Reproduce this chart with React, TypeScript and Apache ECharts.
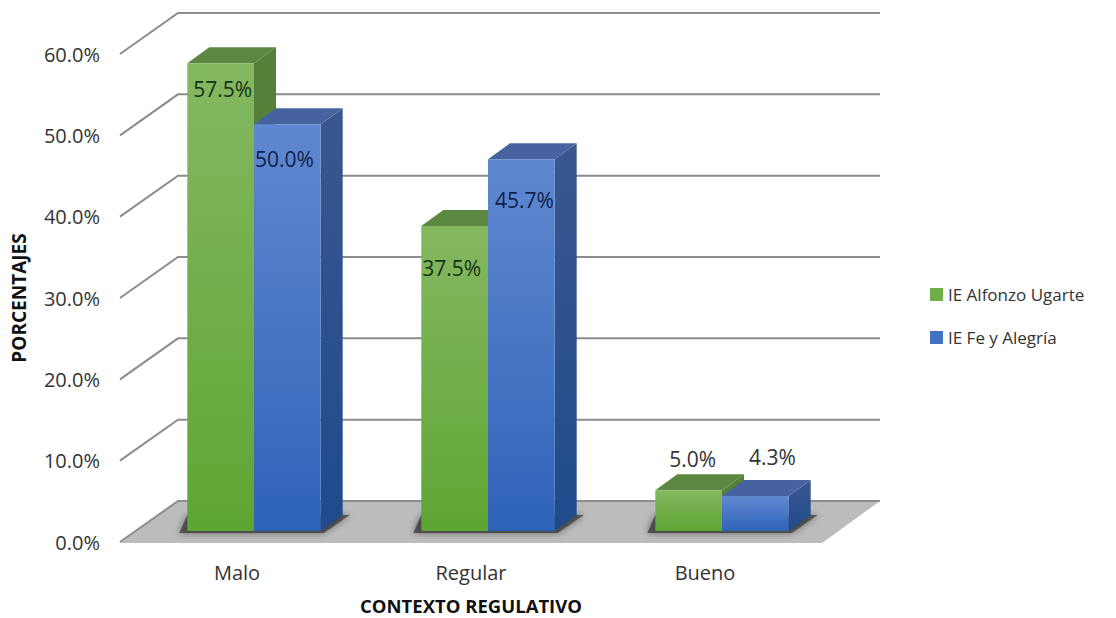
import React, { useEffect, useRef } from "react";
import * as echarts from "echarts";

const categories = ["Malo", "Regular", "Bueno"];
const alfonzoUgarte = [57.5, 37.5, 5.0];
const feYAlegria = [50.0, 45.7, 4.3];
const axisTicks = [0, 10, 20, 30, 40, 50, 60];
const seriesNames = ["IE Alfonzo Ugarte", "IE Fe y Alegría"];

const FONT = "'Open Sans', 'Noto Sans', sans-serif";
const TEXT = "#333333";
const WALL = { dx: 58, dy: -41 };
const BAR_FRONT = { dx: 17, dy: -11 };
const BAR_DEPTH = { dx: 22, dy: -16 };
const BAR_RATIO = 0.285;

// nudges of the value labels from the top-centre of each bar's front face
const greenNudges = [[2, 26], [-3, 42], [4, -31]];
const blueNudges = [[-3, 35], [3, 41], [17, -39]];

const palette = [
  { top: "#84b860", bottom: "#5fa534", side: "#56803a", cap: "#5b8741", label: "#16321a" },
  { top: "#6088d0", bottom: "#2f63b9", side: "#3a578f", cap: "#46639f", label: "#101f4a" },
];

const grad = (a: string, b: string) =>
  new echarts.graphic.LinearGradient(0, 0, 0, 1, [
    { offset: 0, color: a },
    { offset: 1, color: b },
  ]);

const wallItem = (_: any, api: any) => {
  const size = api.size([1, 0])[0];
  const [cx, y] = api.coord([0, api.value(0)]);
  const left = cx - size / 2;
  const right = left + size * categories.length;
  return {
    type: "polyline",
    shape: { points: [[left, y], [left + WALL.dx, y + WALL.dy], [right + WALL.dx, y + WALL.dy]] },
    style: { stroke: "#8c8c8c", lineWidth: 2, fill: "none" },
  };
};

const floorItem = (_: any, api: any) => {
  const size = api.size([1, 0])[0];
  const [cx, y] = api.coord([0, 0]);
  const left = cx - size / 2;
  const right = left + size * categories.length;
  return {
    type: "polygon",
    shape: {
      points: [
        [left, y + 1],
        [left + WALL.dx, y + WALL.dy],
        [right + WALL.dx, y + WALL.dy],
        [right, y + 1],
      ],
    },
    style: { fill: "#bcbcbc" },
  };
};

const shadowItem = (_: any, api: any) => {
  const size = api.size([1, 0])[0];
  const [cx, y] = api.coord([api.value(0), 0]);
  const w = size * BAR_RATIO;
  const c = cx + BAR_FRONT.dx;
  const base = y + BAR_FRONT.dy;
  return {
    type: "polygon",
    shape: {
      points: [
        [c - w - 8, base + 2],
        [c + w + 3, base + 2],
        [c + w + BAR_DEPTH.dx + 7, base + BAR_DEPTH.dy],
        [c - w, base + BAR_DEPTH.dy],
      ],
    },
    style: { fill: "rgba(60,60,60,0.75)", shadowBlur: 6, shadowColor: "rgba(40,40,40,0.8)" },
  };
};

const barItem = (seriesIdx: number, nudges: number[][]) => (params: any, api: any) => {
  const size = api.size([1, 0])[0];
  const idx = api.value(0);
  const val = api.value(1);
  const [cx, yTop] = api.coord([idx, val]);
  const [, yBase] = api.coord([idx, 0]);
  const w = size * BAR_RATIO;
  const c = cx + BAR_FRONT.dx;
  const x0 = seriesIdx === 0 ? c - w : c;
  const x1 = x0 + w;
  const top = yTop + BAR_FRONT.dy;
  const base = yBase + BAR_FRONT.dy;
  const { dx, dy } = BAR_DEPTH;
  const col = palette[seriesIdx];
  const nudge = nudges[params.dataIndex];
  return {
    type: "group",
    children: [
      {
        type: "polygon",
        shape: { points: [[x1, top], [x1 + dx, top + dy], [x1 + dx, base + dy], [x1, base]] },
        style: { fill: seriesIdx === 0 ? col.side : grad(col.side, "#1f4a8c") },
      },
      {
        type: "polygon",
        shape: { points: [[x0, top], [x0 + dx, top + dy], [x1 + dx, top + dy], [x1, top]] },
        style: { fill: col.cap },
      },
      {
        type: "rect",
        shape: { x: x0, y: top, width: w, height: base - top },
        style: { fill: grad(col.top, col.bottom) },
      },
      {
        type: "text",
        x: (x0 + x1) / 2 + nudge[0],
        y: top + nudge[1],
        style: {
          text: `${val.toFixed(1)}%`,
          fontFamily: FONT,
          fontSize: 21,
          fill: val < 10 ? TEXT : col.label,
          textAlign: "center",
          textVerticalAlign: "middle",
        },
      },
    ],
  };
};

export default function App() {
  const ref = useRef<HTMLDivElement>(null);
  useEffect(() => {
    const chart = echarts.init(ref.current!, null, { renderer: "svg" });
    chart.setOption({
      animation: false,
      backgroundColor: "#ffffff",
      grid: { left: 120, right: 294, top: 54, bottom: 76, outerBoundsMode: "none" },
      legend: {
        orient: "vertical",
        left: 925,
        top: 281,
        itemWidth: 13,
        itemHeight: 13,
        itemGap: 26,
        icon: "rect",
        data: seriesNames,
        textStyle: { fontFamily: FONT, fontSize: 17, color: TEXT },
      },
      xAxis: {
        type: "category",
        data: categories,
        axisLine: { show: false },
        axisTick: { show: false },
        axisLabel: { fontFamily: FONT, fontSize: 20, color: TEXT, margin: 20 },
        name: "CONTEXTO REGULATIVO",
        nameLocation: "middle",
        nameGap: 54,
        nameTextStyle: { fontFamily: FONT, fontSize: 18.5, lineHeight: 19, fontWeight: "bold", color: "#111111" },
      },
      yAxis: {
        type: "value",
        min: 0,
        max: 60,
        interval: 10,
        axisLine: { show: false },
        axisTick: { show: false },
        splitLine: { show: false },
        axisLabel: {
          fontFamily: FONT,
          fontSize: 20,
          color: TEXT,
          margin: 20,
          formatter: (v: number) => `${v.toFixed(1)}%`,
        },
        name: "PORCENTAJES",
        nameLocation: "middle",
        nameGap: 92,
        nameTextStyle: { fontFamily: FONT, fontSize: 19, fontWeight: "bold", color: "#111111" },
      },
      series: [
        { type: "custom", silent: true, clip: false, data: [[0]], encode: { x: 0 }, renderItem: floorItem, z: 1 },
        { type: "custom", silent: true, clip: false, data: axisTicks.map((t) => [t]), encode: { y: 0 }, renderItem: wallItem, z: 2 },
        { type: "custom", silent: true, clip: false, data: categories.map((_, i) => [i]), encode: { x: 0 }, renderItem: shadowItem, z: 3 },
        {
          type: "custom",
          name: seriesNames[0],
          clip: false,
          z: 4,
          itemStyle: { color: "#6fae48" },
          data: alfonzoUgarte.map((v, i) => [i, v]),
          encode: { x: 0, y: 1 },
          renderItem: barItem(0, greenNudges),
        },
        {
          type: "custom",
          name: seriesNames[1],
          clip: false,
          z: 5,
          itemStyle: { color: "#4472c4" },
          data: feYAlegria.map((v, i) => [i, v]),
          encode: { x: 0, y: 1 },
          renderItem: barItem(1, blueNudges),
        },
      ],
    });
    return () => chart.dispose();
  }, []);
  return <div ref={ref} style={{ position: "absolute", left: 0, top: 0, width: 1116, height: 618 }} />;
}
